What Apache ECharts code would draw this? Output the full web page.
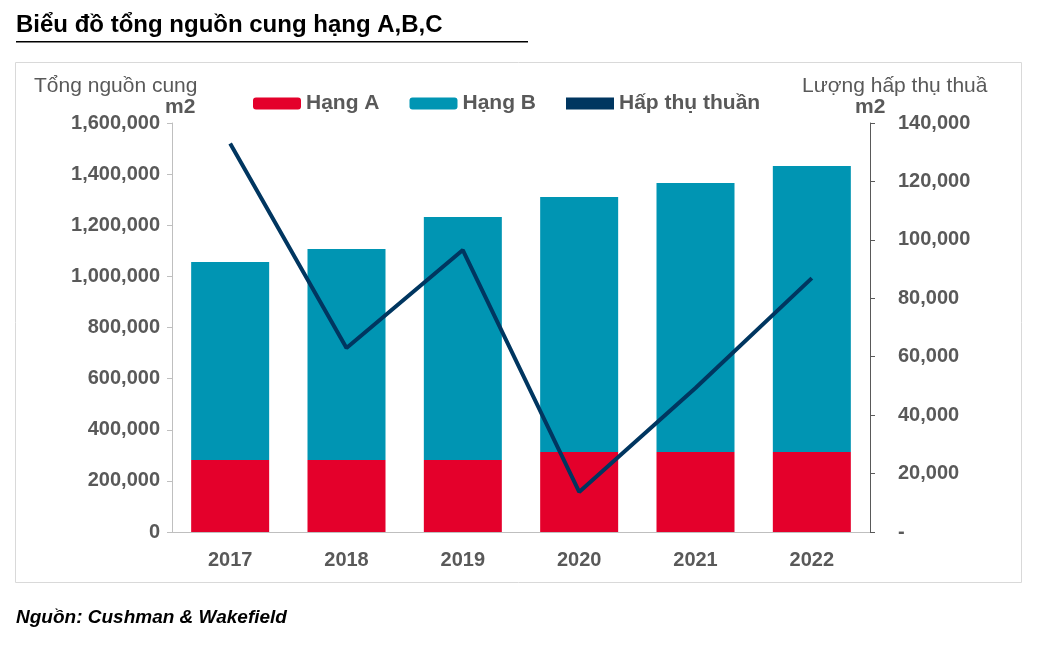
<!DOCTYPE html>
<html>
<head>
<meta charset="UTF-8">
<script src="https://cdn.jsdelivr.net/npm/echarts@6/dist/echarts.min.js"></script>
<style>
body{margin:0;background:#fff;}
#chart{width:1041px;height:652px;}
</style>
</head>
<body>
<div id="chart"></div>
<script>
var years = ['2017', '2018', '2019', '2020', '2021', '2022'];
var hangA = [282000, 282000, 282000, 313000, 313000, 313000];
var hangB = [774000, 825000, 950000, 998000, 1052000, 1119000];
var hapThu = [133000, 63000, 96500, 13700, 49300, 86900];

var chart = echarts.init(document.getElementById('chart'));
var fmt = function (v) { return v.toLocaleString('en-US'); };
var labelStyle = {color: '#595959', fontSize: 20, fontWeight: 'bold', fontFamily: 'Liberation Sans'};

chart.setOption({
  animation: false,
  textStyle: {fontFamily: 'Liberation Sans'},
  grid: {left: 172, right: 171, top: 123, bottom: 120},
  graphic: [
    {type: 'rect', shape: {x: 15.5, y: 62.5, width: 1006, height: 520}, style: {fill: 'none', stroke: '#d9d9d9', lineWidth: 1}},
    {type: 'text', left: 16, top: 13, style: {text: 'Biểu đồ tổng nguồn cung hạng A,B,C', font: 'bold 24px Liberation Sans', fill: '#000'}},
    {type: 'rect', shape: {x: 16, y: 41, width: 512, height: 1.5}, style: {fill: '#000'}},
    {type: 'text', left: 34, top: 76, style: {text: 'Tổng nguồn cung', font: '21px Liberation Sans', fill: '#595959'}},
    {type: 'text', left: 165, top: 97, style: {text: 'm2', font: 'bold 21px Liberation Sans', fill: '#595959'}},
    {type: 'text', left: 802, top: 76, style: {text: 'Lượng hấp thụ thuầ', font: '21px Liberation Sans', fill: '#595959'}},
    {type: 'text', left: 855, top: 97, style: {text: 'm2', font: 'bold 21px Liberation Sans', fill: '#595959'}},
    {type: 'text', left: 16, top: 608, style: {text: 'Nguồn: Cushman & Wakefield', font: 'italic bold 19px Liberation Sans', fill: '#000'}}
  ],
  legend: {
    top: 88, left: 248, itemGap: 30, itemWidth: 48, itemHeight: 12,
    textStyle: {color: '#595959', fontSize: 21, fontWeight: 'bold'},
    data: [{name: 'Hạng A'}, {name: 'Hạng B'}, {name: 'Hấp thụ thuần', icon: 'rect', itemStyle: {color: '#003660'}}]
  },
  xAxis: {
    type: 'category', data: years,
    axisLine: {lineStyle: {color: '#bfbfbf'}},
    axisTick: {show: false},
    axisLabel: Object.assign({margin: 18}, labelStyle)
  },
  yAxis: [
    {type: 'value', min: 0, max: 1600000, interval: 200000,
     splitLine: {show: false}, axisLine: {show: true, lineStyle: {color: '#bfbfbf'}},
     axisTick: {show: true, length: 5, lineStyle: {color: '#bfbfbf'}},
     axisLabel: Object.assign({formatter: fmt, margin: 12}, labelStyle)},
    {type: 'value', min: 0, max: 140000, interval: 20000,
     splitLine: {show: false}, axisLine: {show: true, lineStyle: {color: '#595959'}},
     axisTick: {show: true, length: 5, lineStyle: {color: '#595959'}},
     axisLabel: Object.assign({formatter: function (v) { return v === 0 ? '-' : fmt(v); }, margin: 28, align: 'left'}, labelStyle)}
  ],
  series: [
    {name: 'Hạng A', type: 'bar', stack: 'tong', data: hangA, barWidth: 78, itemStyle: {color: '#e4002b'}},
    {name: 'Hạng B', type: 'bar', stack: 'tong', data: hangB, barWidth: 78, itemStyle: {color: '#0095b3'}},
    {name: 'Hấp thụ thuần', type: 'line', yAxisIndex: 1, data: hapThu, symbol: 'none',
     lineStyle: {color: '#003660', width: 4}, itemStyle: {color: '#003660'}}
  ]
});
</script>
</body>
</html>
